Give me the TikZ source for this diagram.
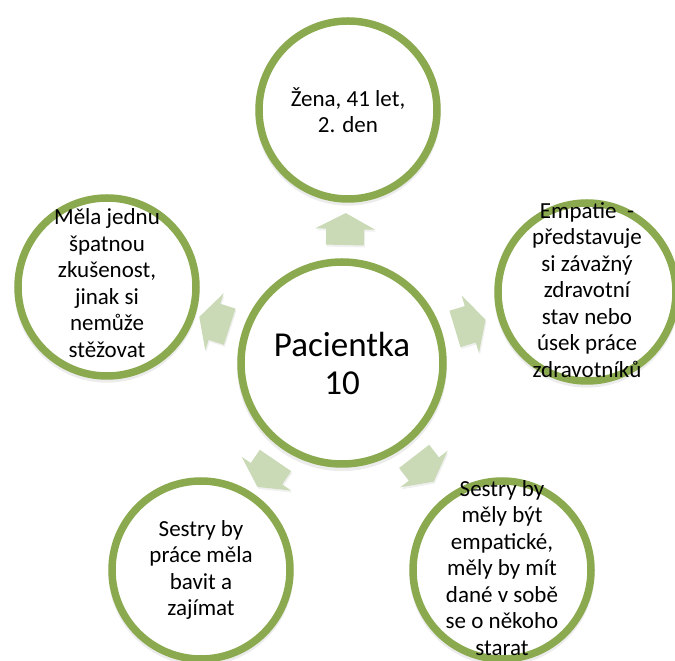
\documentclass[tikz,border=0pt]{standalone}
\usepackage{fontspec}
\setmainfont{Carlito}
\usetikzlibrary{calc,shadows}
\definecolor{krajzel}{RGB}{139,170,80}
\definecolor{sipzel}{RGB}{202,218,182}

\begin{document}
\begin{tikzpicture}[x=1pt,y=1pt,
  kruh/.style={circle,draw=krajzel,line width=7.5pt,fill=white,minimum size=178pt,inner sep=0pt,
    drop shadow={shadow xshift=0pt,shadow yshift=-3pt,shadow scale=1.04,opacity=.15}},
  stred/.style={kruh,minimum size=202pt},
  popis/.style={align=center,inner sep=0pt,font=\fontsize{23}{26.5}\selectfont},
  velky/.style={align=center,inner sep=0pt,font=\fontsize{35}{38}\selectfont},
  sipka/.style={fill=sipzel,drop shadow={shadow xshift=1pt,shadow yshift=-2pt,opacity=.12}}]
\useasboundingbox (0,0) rectangle (675,661);

\node[stred] (pac) at (342,298) {};
\node[kruh] (zena) at (348,551) {};
\node[kruh] (empatie) at (587,369) {};
\node[kruh] (sestryA) at (502,91) {};
\node[kruh] (sestryB) at (201,91) {};
\node[kruh] (mela) at (107,374) {};

\foreach \a in {88.6,16.8,-52.3,-124.3,162.1}
{
  \begin{scope}[shift={($(pac)+(\a:133)$)},rotate=\a]
    \fill[sipka] (-15,-19) -- (1,-19) -- (1,-30) -- (17,0) -- (1,30) -- (1,19) -- (-15,19) -- cycle;
  \end{scope}
}

\node[velky] (tpac) at (pac) {Pacientka\\10};
\node[popis] (tzena) at (zena) {Žena, 41 let,\\2. den};
\node[popis] (tempatie) at ($(empatie)+(0,2)$) {Empatie~ -\\představuje\\si závažný\\zdravotní\\stav nebo\\úsek práce\\zdravotníků};
\node[popis] (tsestryA) at ($(sestryA)+(0,2)$) {Sestry by\\měly být\\empatické,\\měly by mít\\dané v sobě\\se o někoho\\starat};
\node[popis] (tsestryB) at (sestryB) {Sestry by\\práce měla\\bavit a\\zajímat};
\node[popis] (tmela) at ($(mela)+(0,4)$) {Měla jednu\\špatnou\\zkušenost,\\jinak si\\nemůže\\stěžovat};
\end{tikzpicture}
\end{document}
